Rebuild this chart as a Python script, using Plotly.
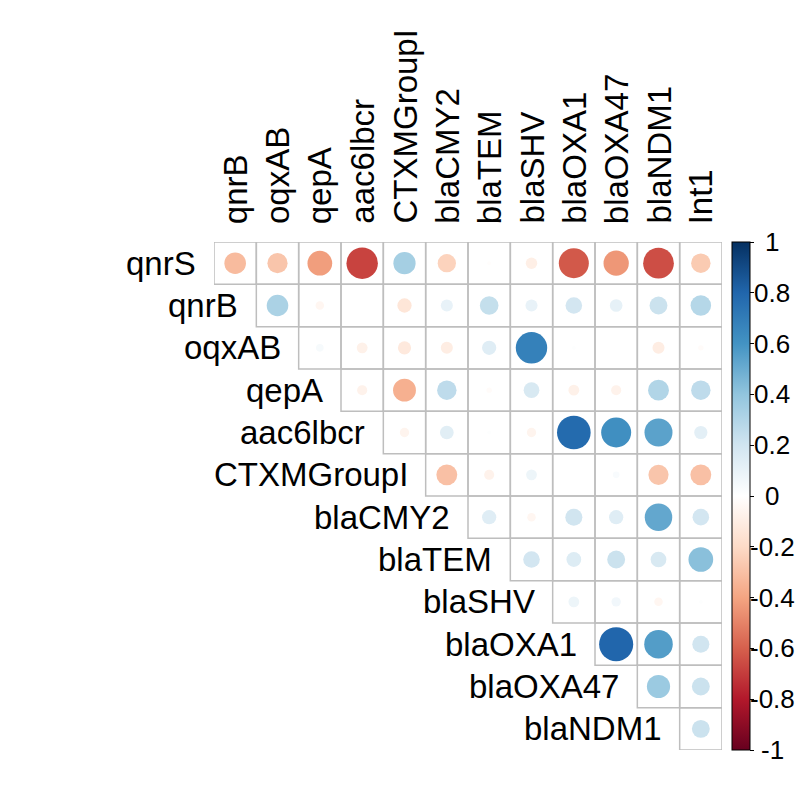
import math
import plotly.graph_objects as go

# ---- data ----
row_vars = ["qnrS", "qnrB", "oqxAB", "qepA", "aac6lbcr", "CTXMGroupI",
            "blaCMY2", "blaTEM", "blaSHV", "blaOXA1", "blaOXA47", "blaNDM1"]
col_vars = ["qnrB", "oqxAB", "qepA", "aac6lbcr", "CTXMGroupI", "blaCMY2",
            "blaTEM", "blaSHV", "blaOXA1", "blaOXA47", "blaNDM1", "Int1"]

# upper-triangle correlations; row i lists values for col_vars[i:]
r_qnrS = [-0.32, -0.28, -0.42, -0.68, 0.34, -0.23, -0.01, -0.09, -0.62, -0.44, -0.65, -0.26]
r_qnrB = [0.32, -0.05, 0.0, -0.14, 0.10, 0.24, 0.10, 0.19, 0.11, 0.22, 0.29]
r_oqxAB = [0.04, -0.08, -0.12, -0.10, 0.14, 0.68, 0.01, 0.0, -0.10, -0.02]
r_qepA = [-0.07, -0.36, 0.26, -0.02, 0.17, -0.08, -0.07, 0.30, 0.26]
r_aac6lbcr = [-0.06, 0.13, 0.01, -0.06, 0.78, 0.62, 0.54, 0.12]
r_CTXM = [-0.30, -0.07, 0.08, 0.0, 0.03, -0.28, -0.30]
r_blaCMY2 = [0.14, -0.05, 0.20, 0.14, 0.52, 0.19]
r_blaTEM = [0.19, 0.15, 0.22, 0.17, 0.42]
r_blaSHV = [0.08, 0.06, -0.05, 0.01]
r_blaOXA1 = [0.80, 0.56, 0.20]
r_blaOXA47 = [0.37, 0.22]
r_blaNDM1 = [0.22]
rows_values = [r_qnrS, r_qnrB, r_oqxAB, r_qepA, r_aac6lbcr, r_CTXM,
               r_blaCMY2, r_blaTEM, r_blaSHV, r_blaOXA1, r_blaOXA47, r_blaNDM1]

cbar_ticks = [-1, -0.8, -0.6, -0.4, -0.2, 0, 0.2, 0.4, 0.6, 0.8, 1]
cbar_labels = ["-1", "-0.8", "-0.6", "-0.4", "-0.2", "0", "0.2", "0.4", "0.6", "0.8", "1"]

# ---- layout geometry ----
W = H = 800
ML, MR, MT, MB = 214, 78, 242, 50
n = len(col_vars)
cell_px = (W - ML - MR) / n

rdbu = ["#67001F", "#B2182B", "#D6604D", "#F4A582", "#FDDBC7", "#FFFFFF",
        "#D1E5F0", "#92C5DE", "#4393C3", "#2166AC", "#053061"]
cscale = [[i / (len(rdbu) - 1), c] for i, c in enumerate(rdbu)]

xs, ys, vals, sizes = [], [], [], []
shapes = []
for i, vals_row in enumerate(rows_values):
    for k, v in enumerate(vals_row):
        j = i + k
        xs.append(j)
        ys.append(i)
        vals.append(v)
        sizes.append(0.9 * math.sqrt(abs(v)) * cell_px)
        shapes.append(dict(type="rect", xref="x", yref="y",
                           x0=j - 0.5, x1=j + 0.5, y0=i - 0.5, y1=i + 0.5,
                           line=dict(color="#BEBEBE", width=1.5),
                           fillcolor="rgba(0,0,0,0)", layer="below"))

FONT = "Liberation Sans, Arial, sans-serif"

fig = go.Figure()
fig.add_trace(go.Scatter(
    x=xs, y=ys, mode="markers",
    marker=dict(size=sizes, sizemode="diameter", color=vals,
                colorscale=cscale, cmin=-1, cmax=1, line=dict(width=0),
                opacity=1,
                showscale=True,
                colorbar=dict(x=1 + 9.5 / (W - ML - MR), xanchor="left", xpad=0,
                              y=0.5, yanchor="middle", ypad=0,
                              len=1, lenmode="fraction",
                              thickness=18, outlinewidth=1, outlinecolor="black",
                              tickvals=cbar_ticks, ticktext=[""] * len(cbar_ticks),
                              ticks="outside", ticklen=4, tickwidth=1,
                              tickcolor="black", showticklabels=True)),
    hoverinfo="skip", showlegend=False))

annotations = []
for i, name in enumerate(row_vars):
    annotations.append(dict(x=i - 0.5, y=i, xref="x", yref="y", text=name,
                            showarrow=False, xanchor="right", yanchor="middle",
                            xshift=-16, font=dict(family=FONT, size=33, color="black")))
for j, name in enumerate(col_vars):
    annotations.append(dict(x=j, y=-0.5, xref="x", yref="y", text=name,
                            showarrow=False, textangle=-90, xanchor="center",
                            yanchor="bottom", yshift=16,
                            font=dict(family=FONT, size=33, color="black")))
for t, lab in zip(cbar_ticks, cbar_labels):
    annotations.append(dict(x=1 + 50 / (W - ML - MR), y=(t + 1) / 2,
                            xref="paper", yref="paper", text=lab, showarrow=False,
                            xanchor="center", yanchor="middle",
                            font=dict(family=FONT, size=26, color="black")))

fig.update_layout(
    width=W, height=H,
    margin=dict(l=ML, r=MR, t=MT, b=MB, pad=0),
    paper_bgcolor="white", plot_bgcolor="white",
    xaxis=dict(range=[-0.5, n - 0.5], showgrid=False, zeroline=False,
               showticklabels=False, ticks="", fixedrange=True),
    yaxis=dict(range=[n - 0.5, -0.5], showgrid=False, zeroline=False,
               showticklabels=False, ticks="", fixedrange=True),
    shapes=shapes, annotations=annotations, showlegend=False,
)

fig.write_html("out.html", config={"displayModeBar": False},
               post_script="document.body.style.margin='0';document.body.style.overflow='hidden';")
